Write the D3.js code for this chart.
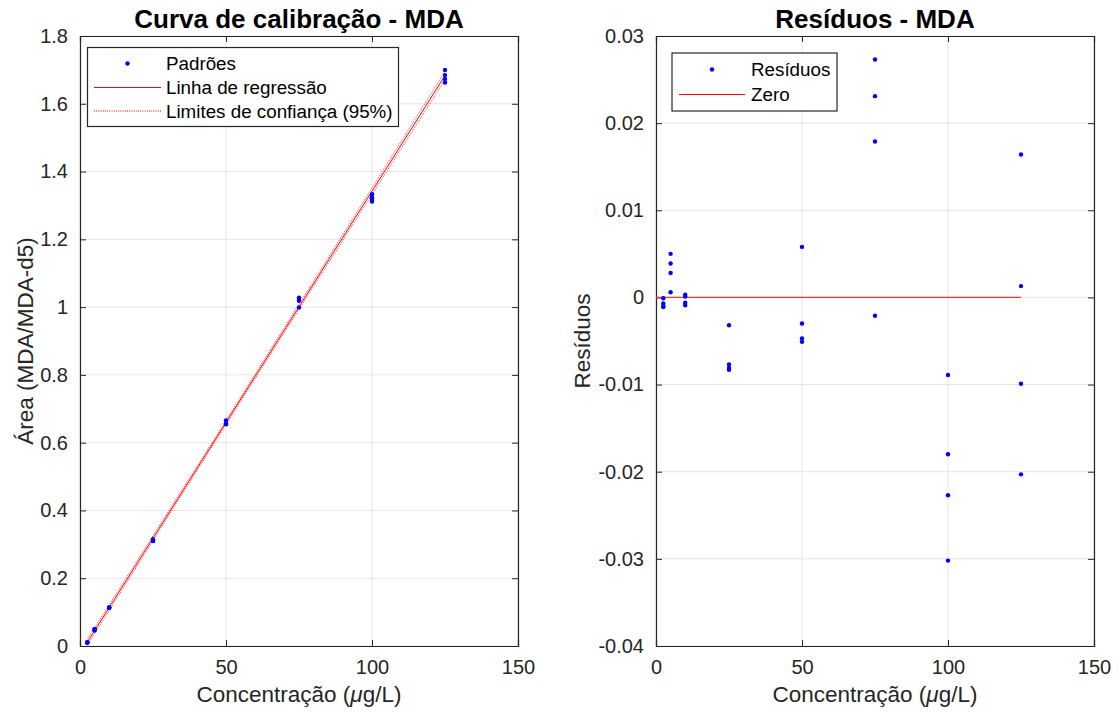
<!DOCTYPE html>
<html><head><meta charset="utf-8">
<script src="https://cdn.jsdelivr.net/npm/d3@7"></script>
<style>
body{margin:0;background:#fff;}
svg{display:block;font-family:"Liberation Sans",Arial,sans-serif;}
</style></head>
<body><svg id="c" width="1118" height="713"></svg>
<script>
// ---------- data ----------
const concLevels = [2.5, 5, 10, 25, 50, 75, 100, 125];
// areas (MDA/MDA-d5), 4 replicates per level
const areaValues = [
  [0.0110, 0.0104, 0.0101, 0.0100],
  [0.0502, 0.0491, 0.0480, 0.0458],
  [0.1138, 0.1136, 0.1129, 0.1126],
  [0.3151, 0.3106, 0.3102, 0.3100],
  [0.6653, 0.6565, 0.6548, 0.6544],
  [1.0281, 1.0239, 1.0187, 0.9987],
  [1.3331, 1.3240, 1.3193, 1.3118],
  [1.6997, 1.6846, 1.6734, 1.6630]
];
// residuals per level
const residualValues = [
  [-0.0001, -0.0007, -0.0010, -0.0011],
  [0.0050, 0.0039, 0.0028, 0.0006],
  [0.0003, 0.0001, -0.0006, -0.0009],
  [-0.0032, -0.0077, -0.0081, -0.0083],
  [0.0058, -0.0030, -0.0047, -0.0051],
  [0.0273, 0.0231, 0.0179, -0.0021],
  [-0.0089, -0.0180, -0.0227, -0.0302],
  [0.0164, 0.0013, -0.0099, -0.0203]
];
// regression line end points
const fitX = [2.5, 125];
const fitY = [0.0111, 1.6833];
// 95% confidence limits
const confX = [2.5, 25, 50, 75, 100, 125];
const confUpper = [0.0201, 0.3255, 0.6657, 1.0082, 1.3518, 1.6961];
const confLower = [0.0021, 0.3111, 0.6533, 0.9934, 1.3322, 1.6705];
// zero line
const zeroX = [0, 125];
const zeroY = [0, 0];
// ticks
const xTicks = [0, 50, 100, 150];
const yTicksLeft = [0, 0.2, 0.4, 0.6, 0.8, 1, 1.2, 1.4, 1.6, 1.8];
const yTicksRight = [-0.04, -0.03, -0.02, -0.01, 0, 0.01, 0.02, 0.03];

// ---------- drawing ----------
const svg = d3.select("#c");
const AX = "#262626", GRID = "#e6e6e6";

function panel(x0, x1, yDom, yTicks, fmt, title, ylab, ylabX) {
  const x = d3.scaleLinear().domain([0,150]).range([x0, x1]);
  const y = d3.scaleLinear().domain(yDom).range([646, 36]);
  const g = svg.append("g");
  g.selectAll(".gx").data(xTicks).join("line")
    .attr("x1", d=>x(d)).attr("x2", d=>x(d)).attr("y1", 36).attr("y2", 646)
    .attr("stroke", GRID).attr("stroke-width", 1);
  g.selectAll(".gy").data(yTicks).join("line")
    .attr("y1", d=>y(d)).attr("y2", d=>y(d)).attr("x1", x0).attr("x2", x1)
    .attr("stroke", GRID).attr("stroke-width", 1);
  const ax = g.append("g").attr("transform","translate(0,646)")
    .call(d3.axisBottom(x).tickValues(xTicks).tickSize(-6).tickPadding(14).tickFormat(d3.format("d")));
  const ay = g.append("g").attr("transform",`translate(${x0},0)`)
    .call(d3.axisLeft(y).tickValues(yTicks).tickSize(-6).tickPadding(12).tickFormat(fmt));
  const axT = g.append("g").attr("transform","translate(0,36)")
    .call(d3.axisTop(x).tickValues(xTicks).tickSize(-6).tickFormat(""));
  const ayR = g.append("g").attr("transform",`translate(${x1},0)`)
    .call(d3.axisRight(y).tickValues(yTicks).tickSize(-6).tickFormat(""));
  [ax, ay, axT, ayR].forEach(a=>{
    a.selectAll("path").attr("stroke", AX).attr("stroke-width", 1.2);
    a.selectAll("line").attr("stroke", AX);
    a.selectAll("text").attr("fill", AX).style("font-size","20px")
      .style("font-family","'Liberation Sans',Arial,sans-serif");
  });
  svg.append("text").attr("x", (x0+x1)/2).attr("y", 28).attr("text-anchor","middle")
    .style("font-size","26px").style("font-weight","bold").attr("fill","#000").text(title);
  const xl = svg.append("text").attr("x", (x0+x1)/2).attr("y", 702).attr("text-anchor","middle")
    .style("font-size","22.5px").attr("fill", AX);
  xl.append("tspan").text("Concentração (");
  xl.append("tspan").style("font-style","italic").text("μ");
  xl.append("tspan").text("g/L)");
  svg.append("text").attr("transform",`translate(${ylabX},341) rotate(-90)`)
    .attr("text-anchor","middle").style("font-size","22.5px").attr("fill", AX).text(ylab);
  return {x, y, g};
}

const fmtL = d => d===0 ? "0" : d3.format("~g")(d);
const fmtR = d => d===0 ? "0" : d3.format(".2f")(d).replace("\u2212", "-");
const L = panel(80, 518, [0,1.8], yTicksLeft, fmtL, "Curva de calibração - MDA", "Área (MDA/MDA-d5)", 33);
const R = panel(656, 1094, [-0.04,0.03], yTicksRight, fmtR, "Resíduos - MDA", "Resíduos", 590);

const confLine = (arr) => d3.line().x((d,i)=>L.x(confX[i])).y(d=>L.y(d)).curve(d3.curveMonotoneX)(arr);
[confUpper, confLower].forEach(arr=>{
  L.g.append("path").attr("d", confLine(arr)).attr("fill","none")
    .attr("stroke","#ff0000").attr("stroke-width",1).attr("stroke-dasharray","1,1.2").attr("opacity",0.8);
});
L.g.append("path").attr("d", d3.line().x((d,i)=>L.x(fitX[i])).y(d=>L.y(d))(fitY))
  .attr("fill","none").attr("stroke","#ff0000").attr("stroke-width",1);
const ptsL = [];
concLevels.forEach((c,i)=>areaValues[i].forEach(v=>ptsL.push([c,v])));
L.g.selectAll(".pl").data(ptsL).join("circle")
  .attr("cx", d=>L.x(d[0])).attr("cy", d=>L.y(d[1])).attr("r", 2.2).attr("fill","#0000ff");

R.g.append("path").attr("d", d3.line().x((d,i)=>R.x(zeroX[i])).y(d=>R.y(d))(zeroY))
  .attr("fill","none").attr("stroke","#ff3333").attr("stroke-width",1.2);
const ptsR = [];
concLevels.forEach((c,i)=>residualValues[i].forEach(v=>ptsR.push([c,v])));
R.g.selectAll(".pr").data(ptsR).join("circle")
  .attr("cx", d=>R.x(d[0])).attr("cy", d=>R.y(d[1])).attr("r", 2.2).attr("fill","#0000ff");

function legend(box, items) {
  const g = svg.append("g");
  g.append("rect").attr("x", box[0]).attr("y", box[1]).attr("width", box[2]).attr("height", box[3])
    .attr("fill","#fff").attr("stroke", AX).attr("stroke-width", 1.2);
  items.forEach(it=>{
    if (it.type==="dot") g.append("circle").attr("cx",(it.l0+it.l1)/2).attr("cy",it.cy).attr("r",2.2).attr("fill","#0000ff");
    else g.append("line").attr("x1",it.l0).attr("x2",it.l1).attr("y1",it.cy).attr("y2",it.cy)
      .attr("stroke","#ff0000").attr("stroke-width",1).attr("stroke-dasharray", it.type==="dot-line" ? "1,1.2" : null);
    g.append("text").attr("x", it.tx).attr("y", it.cy+6.5).style("font-size","18.8px").attr("fill","#000").text(it.label);
  });
}
legend([87.5,47.5,311,79], [
  {type:"dot", l0:94, l1:161, cy:63.5, tx:166, label:"Padrões"},
  {type:"line", l0:94, l1:161, cy:87.5, tx:166, label:"Linha de regressão"},
  {type:"dot-line", l0:94, l1:161, cy:111, tx:166, label:"Limites de confiança (95%)"}
]);
legend([672,53,165,58], [
  {type:"dot", l0:679, l1:745, cy:69.5, tx:751, label:"Resíduos"},
  {type:"line", l0:679, l1:745, cy:94.5, tx:751, label:"Zero"}
]);
</script></body></html>
